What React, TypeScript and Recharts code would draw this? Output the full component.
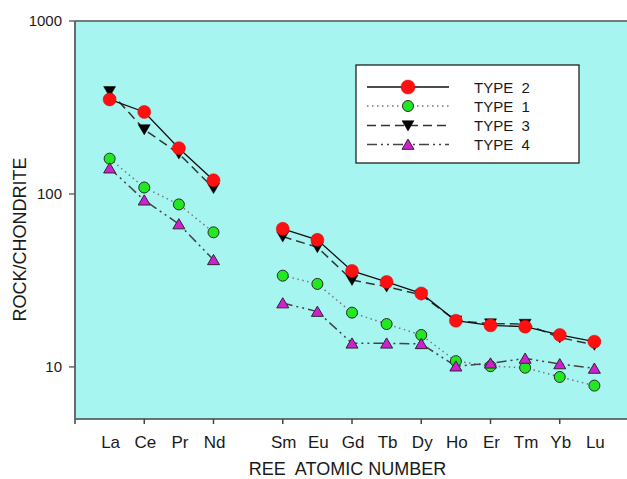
import React from 'react';
import { LineChart, Line, XAxis, YAxis, CartesianGrid, ReferenceLine } from 'recharts';

const elements = ['La', 'Ce', 'Pr', 'Nd', 'Pm', 'Sm', 'Eu', 'Gd', 'Tb', 'Dy', 'Ho', 'Er', 'Tm', 'Yb', 'Lu'];
const atomicNumbers = [57, 58, 59, 60, 61, 62, 63, 64, 65, 66, 67, 68, 69, 70, 71];
const type2 = [352, 298, 184, 120, null, 62.9, 54.3, 35.9, 31.0, 26.6, 18.5, 17.4, 17.1, 15.3, 14.0];
const type1 = [160, 109, 87, 60, null, 33.7, 30.2, 20.6, 17.7, 15.3, 10.8, 10.1, 9.9, 8.75, 7.8];
const type3 = [392, 236, 171, 108, null, 56.7, 49.2, 31.8, 29.1, 26.1, 18.5, 17.8, 17.7, 14.8, 13.4];
const type4 = [141, 92, 67, 41.6, null, 23.4, 20.9, 13.7, 13.7, 13.6, 10.1, 10.5, 11.2, 10.4, 9.8];
const yTicks = [10, 100, 1000];
const xTicks = [56, 57, 58, 59, 60, 61, 62, 63, 64, 65, 66, 67, 68, 69, 70, 71, 72];
const skipLabel = ['Pm'];

const data = atomicNumbers.map((z, i) => ({
  z,
  el: elements[i],
  t1: type1[i],
  t2: type2[i],
  t3: type3[i],
  t4: type4[i],
}));

const FONT = '"Liberation Sans", Arial, sans-serif';
const TICK_SIZE = 5;
const TICK_MARGIN = 8;

const RED = '#ff1010';
const GREEN = '#22e822';
const MAGENTA = '#d21ed2';

const redDot = (cx: number, cy: number, r = 6.5) => <circle cx={cx} cy={cy} r={r} fill={RED} stroke="#e00000" strokeWidth={0.5} />;
const greenDot = (cx: number, cy: number, r = 5.5) => <circle cx={cx} cy={cy} r={r} fill={GREEN} stroke="#2a2a2a" strokeWidth={1} />;
const downTri = (cx: number, cy: number, s = 6) => (
  <path d={`M${cx - s},${cy - s * 0.8} L${cx + s},${cy - s * 0.8} L${cx},${cy + s * 0.9} Z`} fill="#000" stroke="#000" strokeWidth={0.5} />
);
const upTri = (cx: number, cy: number, s = 6) => (
  <path d={`M${cx - s},${cy + s * 0.8} L${cx + s},${cy + s * 0.8} L${cx},${cy - s * 0.9} Z`} fill={MAGENTA} stroke="#2a2a2a" strokeWidth={1} />
);

const mkDot = (fn: (cx: number, cy: number) => React.ReactElement) => (props: any) => {
  const { cx, cy, index } = props;
  if (cx == null || cy == null || Number.isNaN(cy)) return <g key={`d${index}`} />;
  return <g key={`d${index}`}>{fn(cx, cy)}</g>;
};

const XTick = (props: any) => {
  const { x, y, payload } = props;
  const v = payload.value;
  const axisY = y - TICK_SIZE - TICK_MARGIN;
  const idx = atomicNumbers.indexOf(v);
  const label = idx >= 0 && !skipLabel.includes(elements[idx]) ? elements[idx] : null;
  return (
    <g>
      {v % 2 === 0 && <line x1={x} x2={x} y1={axisY} y2={axisY + TICK_SIZE} stroke="#444" strokeWidth={1.5} />}
      {label && (
        <text x={x + 1} y={axisY + 28.5} textAnchor="middle" fontSize={17} fontFamily={FONT} fill="#1a1a1a">
          {label}
        </text>
      )}
    </g>
  );
};

const legendRows = [
  { name: 'TYPE  2', dash: undefined, color: '#111', width: 1.3, mark: (x: number, y: number) => redDot(x, y, 7) },
  { name: 'TYPE  1', dash: '1.5 3.5', color: '#777', width: 1.5, mark: (x: number, y: number) => greenDot(x, y, 5.5) },
  { name: 'TYPE  3', dash: '9 5', color: '#333', width: 1.5, mark: (x: number, y: number) => downTri(x, y, 6) },
  { name: 'TYPE  4', dash: '10 4 2 4 2 4', color: '#444', width: 1.5, mark: (x: number, y: number) => upTri(x, y, 6) },
];
const legendY = [87, 106, 125.5, 144.5];

export default function App() {
  return (
    <div style={{ position: 'absolute', left: 0, top: 0, width: 627, height: 479, overflow: 'hidden', background: '#fff' }}>
      <LineChart width={640} height={479} data={data} margin={{ top: 21, right: 11, left: 0, bottom: 20 }}>
        <CartesianGrid fill="#a6f5f1" horizontal={false} vertical={false} />
        <XAxis
          dataKey="z"
          type="number"
          domain={[56, 72]}
          ticks={xTicks}
          interval={0}
          height={40}
          tickLine={false}
          tickSize={TICK_SIZE}
          tickMargin={TICK_MARGIN}
          tick={<XTick />}
          axisLine={{ stroke: '#444', strokeWidth: 1.5 }}
          allowDataOverflow
        />
        <YAxis
          scale="log"
          domain={[5, 1000]}
          ticks={yTicks}
          allowDataOverflow
          width={75}
          tickSize={6}
          tickMargin={7}
          axisLine={{ stroke: '#6a6a6a', strokeWidth: 2 }}
          tickLine={{ stroke: '#555', strokeWidth: 1.3 }}
          tick={{ fontSize: 15, fontFamily: FONT, fill: '#1a1a1a' }}
          label={{
            content: () => (
              <text x={25.5} y={239.5} transform="rotate(-90 25.5 239.5)" textAnchor="middle" fontSize={18} fontFamily={FONT} fill="#1a1a1a">
                ROCK/CHONDRITE
              </text>
            ),
          }}
        />
        <ReferenceLine y={1000} stroke="#777" strokeWidth={2} />
        <Line dataKey="t1" stroke="#777" strokeWidth={1.5} strokeDasharray="1.5 3.5" dot={mkDot((x, y) => greenDot(x, y))} activeDot={false} isAnimationActive={false} connectNulls={false} />
        <Line dataKey="t4" stroke="#444" strokeWidth={1.5} strokeDasharray="10 4 2 4 2 4" dot={mkDot((x, y) => upTri(x, y))} activeDot={false} isAnimationActive={false} connectNulls={false} />
        <Line dataKey="t3" stroke="#333" strokeWidth={1.5} strokeDasharray="9 5" dot={mkDot((x, y) => downTri(x, y))} activeDot={false} isAnimationActive={false} connectNulls={false} />
        <Line dataKey="t2" stroke="#111" strokeWidth={1.3} dot={mkDot((x, y) => redDot(x, y))} activeDot={false} isAnimationActive={false} connectNulls={false} />
      </LineChart>
      <div style={{ position: 'absolute', left: 0, top: 0, width: 627, height: 479, pointerEvents: 'none' }}>
        <svg width={627} height={479} style={{ position: 'absolute', left: 0, top: 0 }}>
          <text x={347.5} y={474.5} textAnchor="middle" fontSize={18} fontFamily={FONT} fill="#1a1a1a" style={{ whiteSpace: 'pre' }}>
            {'REE  ATOMIC NUMBER'}
          </text>
          <rect x={356} y={65} width={223} height={98} fill="#fff" stroke="#222" strokeWidth={1.3} />
          {legendRows.map((r, i) => (
            <g key={r.name}>
              <line x1={367} x2={449} y1={legendY[i]} y2={legendY[i]} stroke={r.color} strokeWidth={r.width} strokeDasharray={r.dash} />
              {r.mark(408, legendY[i])}
              <text x={474} y={legendY[i] + 5.5} fontSize={15} fontFamily={FONT} fill="#1a1a1a" style={{ whiteSpace: 'pre' }}>
                {r.name}
              </text>
            </g>
          ))}
        </svg>
      </div>
    </div>
  );
}
